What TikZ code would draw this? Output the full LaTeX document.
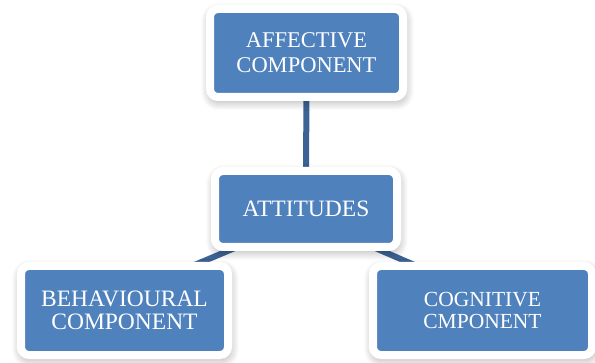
\documentclass[tikz,border=0pt]{standalone}
\usepackage{fontspec}
\setmainfont{Liberation Serif}
\usetikzlibrary{shadows.blur,backgrounds}

\definecolor{boxblue}{RGB}{79,129,189}
\definecolor{linkblue}{RGB}{60,99,150}

\tikzset{
	part/.style={draw=white, line width=8pt, fill=boxblue, rounded corners=8pt,
		inner sep=0pt, align=center, text=white,
		blur shadow={shadow xshift=1pt, shadow yshift=-3.5pt,
			shadow blur radius=10pt, shadow blur steps=10,
			shadow blur extra rounding=4pt, shadow opacity=40}},
	link/.style={draw=linkblue, line width=6pt},
}

\begin{document}
\begin{tikzpicture}[x=1pt, y=1pt]
	\useasboundingbox (0, 0) rectangle (595, 362);
	
	\node[part, minimum width=193pt, minimum height=88pt,
		font=\fontsize{22.5}{25}\selectfont] (aff) at (306.5, 309)
		{AFFECTIVE\\COMPONENT};
	\node[part, minimum width=182pt, minimum height=76pt,
		font=\fontsize{23.5}{25}\selectfont] (att) at (306, 153)
		{ATTITUDES};
	\node[part, minimum width=207pt, minimum height=89pt,
		font=\fontsize{23.5}{23}\selectfont] (beh) at (124.5, 51.5)
		{BEHAVIOURAL\\COMPONENT};
	\node[part, minimum width=219pt, minimum height=89pt,
		font=\fontsize{21.5}{22}\selectfont] (cog) at (482.5, 51.5)
		{COGNITIVE\\CMPONENT};
	
%	links sit behind the boxes
	\begin{scope}[on background layer]
		\draw[link] (aff) -- (att);
		\draw[link] ([yshift=-9pt]att.center) -- ([yshift=16pt]beh.center);
		\draw[link] ([yshift=-9pt]att.center) -- ([yshift=16pt]cog.center);
	\end{scope}
\end{tikzpicture}
\end{document}
